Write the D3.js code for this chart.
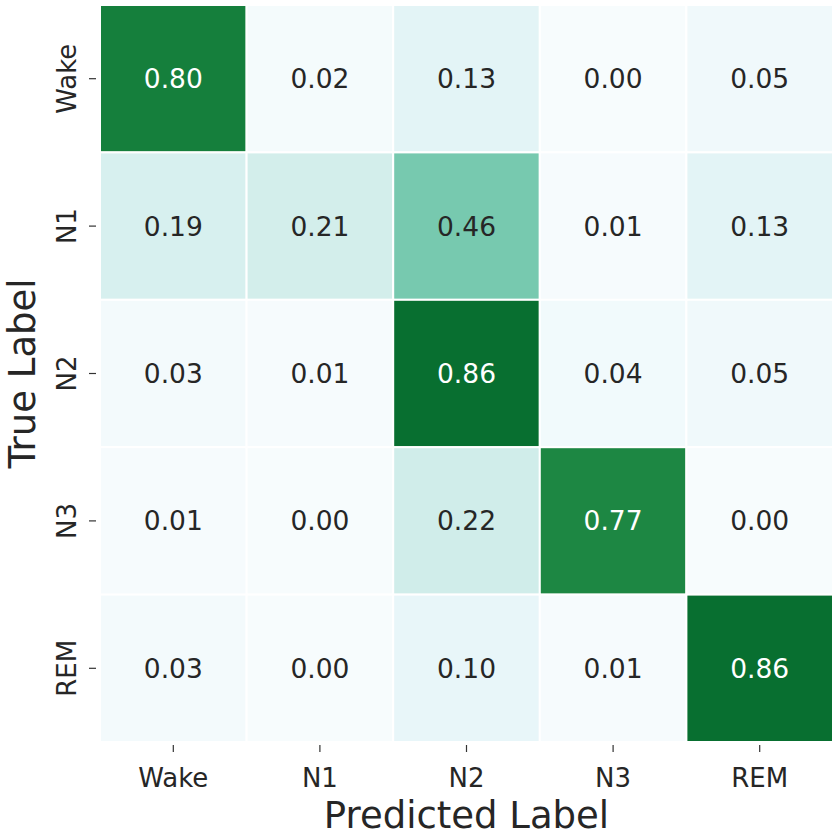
<!DOCTYPE html>
<html>
<head>
<meta charset="utf-8">
<script src="https://cdn.jsdelivr.net/npm/d3@7"></script>
<style>
  body { margin: 0; background: #fff; }
  text { font-family: "DejaVu Sans", sans-serif; }
</style>
</head>
<body>
<div id="chart"></div>
<script>
const stages = ['Wake', 'N1', 'N2', 'N3', 'REM'];
// rows = true label, columns = predicted label
const matrix = [
  [0.80, 0.02, 0.13, 0.00, 0.05],
  [0.19, 0.21, 0.46, 0.01, 0.13],
  [0.03, 0.01, 0.86, 0.04, 0.05],
  [0.01, 0.00, 0.22, 0.77, 0.00],
  [0.03, 0.00, 0.10, 0.01, 0.86]
];

const width = 833;
const height = 838;
const margin = { top: 5, right: 0, bottom: 96, left: 100 };
const textGray = '#262626';

const svg = d3.select('#chart').append('svg')
  .attr('width', width)
  .attr('height', height);

const x = d3.scaleBand()
  .domain(stages)
  .range([margin.left, width - margin.right]);

const y = d3.scaleBand()
  .domain(stages)
  .range([margin.top, height - margin.bottom]);

const color = d3.scaleSequential(d3.interpolateBuGn).domain([0, 1]);

const cells = [];
matrix.forEach((row, i) => {
  row.forEach((v, j) => {
    cells.push({ trueLabel: stages[i], predLabel: stages[j], value: v });
  });
});

const cellG = svg.append('g');

cellG.selectAll('rect')
  .data(cells)
  .enter().append('rect')
    .attr('x', d => x(d.predLabel))
    .attr('y', d => y(d.trueLabel))
    .attr('width', x.bandwidth())
    .attr('height', y.bandwidth())
    .attr('fill', d => color(d.value))
    .attr('stroke', '#fff')
    .attr('stroke-width', 2);

cellG.selectAll('text')
  .data(cells)
  .enter().append('text')
    .attr('x', d => x(d.predLabel) + x.bandwidth() / 2)
    .attr('y', d => y(d.trueLabel) + y.bandwidth() / 2)
    .attr('text-anchor', 'middle')
    .attr('dy', '0.36em')
    .style('font-size', '26.5px')
    .style('fill', d => (d.value > 0.6 ? '#fff' : textGray))
    .text(d => d.value.toFixed(2));

// x axis
const xAxis = svg.append('g')
  .attr('transform', `translate(0,${height - margin.bottom})`)
  .call(d3.axisBottom(x).tickSize(7));
xAxis.select('.domain').remove();
xAxis.selectAll('line')
  .attr('stroke', '#333')
  .attr('stroke-width', 1.2)
  .attr('y1', 3)
  .attr('y2', 10);
xAxis.selectAll('text')
  .style('font-size', '26px')
  .attr('fill', textGray)
  .attr('y', 45)
  .attr('dy', null);

// y axis
const yAxis = svg.append('g')
  .attr('transform', `translate(${margin.left},0)`)
  .call(d3.axisLeft(y).tickSize(7));
yAxis.select('.domain').remove();
yAxis.selectAll('line')
  .attr('stroke', '#333')
  .attr('stroke-width', 1.2)
  .attr('x1', -4)
  .attr('x2', -11);
yAxis.selectAll('text')
  .style('font-size', '26px')
  .attr('fill', textGray)
  .attr('text-anchor', 'middle')
  .attr('dy', null)
  .attr('x', null)
  .attr('transform', 'translate(-24,0) rotate(-90)');

// axis titles
svg.append('text')
  .attr('x', (margin.left + width - margin.right) / 2)
  .attr('y', 828)
  .attr('text-anchor', 'middle')
  .style('font-size', '37px')
  .style('fill', textGray)
  .text('Predicted Label');

svg.append('text')
  .attr('transform', `translate(35,${(margin.top + height - margin.bottom) / 2}) rotate(-90)`)
  .attr('text-anchor', 'middle')
  .style('font-size', '37px')
  .style('fill', textGray)
  .text('True Label');
</script>
</body>
</html>
